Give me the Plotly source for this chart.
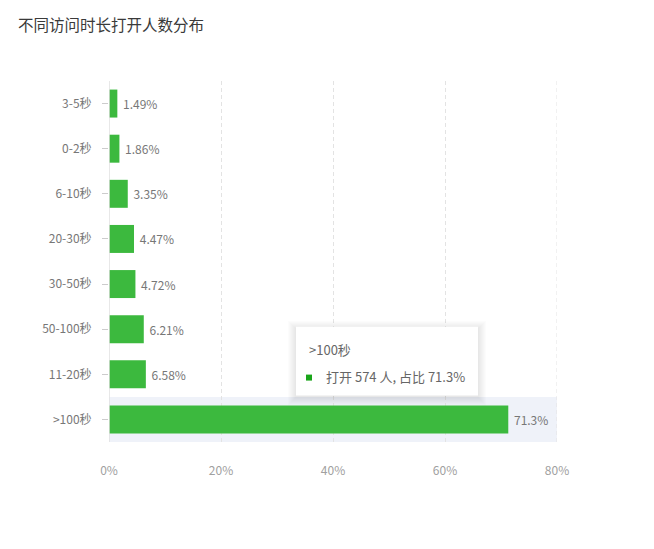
#!/usr/bin/env python3

import plotly.graph_objs as go

# Data (top to bottom)
durations = ['3-5秒', '0-2秒', '6-10秒', '20-30秒', '30-50秒', '50-100秒', '11-20秒', '>100秒']
shares = [1.49, 1.86, 3.35, 4.47, 4.72, 6.21, 6.58, 71.3]
x_ticks = [0, 20, 40, 60, 80]
hover_label = '>100秒'
hover_count = 574

font_family = 'Noto Sans CJK SC, Noto Sans, sans-serif'
bar_green = '#3cb93e'

W, H = 654, 549
OFF = 8  # page margin around the plot div
L, T = 109 - OFF, 81 - OFF
pw, ph = 448, 361.5
R, B = W - L - pw, H - T - ph


def px(x, y):
    # reference pixel position -> paper coords
    return (x - OFF - L) / pw, (T + ph - (y - OFF)) / ph


bar = go.Bar(
    x=shares,
    y=durations,
    orientation='h',
    marker=dict(color=bar_green, line=dict(width=0)),
    width=0.62,
    texttemplate=' %{x}%',
    textposition='outside',
    textfont=dict(color='#777', size=12, family=font_family),
    cliponaxis=False,
    hoverinfo='skip',
)

layout = go.Layout(
    width=W, height=H,
    margin=dict(l=L, r=R, t=T, b=B),
    paper_bgcolor='white',
    plot_bgcolor='white',
    font=dict(family=font_family),
    showlegend=False,
    title=dict(text='不同访问时长打开人数分布', x=(18 - OFF) / W, xanchor='left',
               y=1 - (26 - OFF) / H, yanchor='middle',
               font=dict(size=15.5, color='#3a3a3a', family=font_family)),
    xaxis=dict(
        range=[0, 80], tickvals=x_ticks, ticktext=[f'{v}%' for v in x_ticks],
        showgrid=True, gridcolor='#e3e3e3', griddash='4px,3px', gridwidth=1,
        zeroline=False, showline=False, ticks='',
        tickfont=dict(color='#a0a0a0', size=12, family=font_family),
        ticklabelstandoff=20,
    ),
    yaxis=dict(
        autorange='reversed', type='category',
        showgrid=False, zeroline=False,
        showline=False,
        ticks='outside', ticklen=6, tickcolor='#cccccc',
        tickfont=dict(color='#777', size=12, family=font_family),
        ticklabelstandoff=8,
    ),
)

fig = go.Figure(data=[bar], layout=layout)

# y axis line at 0%
fig.add_shape(type='line', xref='x', yref='paper', x0=0, x1=0, y0=0, y1=1,
              line=dict(color='#e0e0e0', width=1.5), layer='above')
# last grid line at the right edge (plotly drops it)
fig.add_shape(type='line', xref='x', yref='paper', x0=x_ticks[-1], x1=x_ticks[-1], y0=0, y1=1,
              line=dict(color='#e3e3e3', width=1, dash='4px,3px'), layer='above')

# hover band behind the >100秒 bar
idx = durations.index(hover_label)
fig.add_shape(type='rect', xref='paper', yref='y', x0=0, x1=1,
              y0=idx - 0.5, y1=idx + 0.5,
              fillcolor='#eff2f9', line=dict(width=0), layer='below')

# tooltip box with soft shadow
bx0, by0, bx1, by1 = 296, 327, 478, 396
for d in range(8, 0, -1):
    a0, b0 = px(bx0 - d, by1 + d + 2)
    a1, b1 = px(bx1 + d, by0 - d + 2)
    fig.add_shape(type='rect', xref='paper', yref='paper', x0=a0, x1=a1, y0=b0, y1=b1,
                  fillcolor='rgba(0,0,0,0.012)', line=dict(width=0), layer='above')
a0, b0 = px(bx0, by1)
a1, b1 = px(bx1, by0)
fig.add_shape(type='rect', xref='paper', yref='paper', x0=a0, x1=a1, y0=b0, y1=b1,
              fillcolor='white', line=dict(width=0), layer='above')

tx, ty = px(307, 350)
fig.add_annotation(xref='paper', yref='paper', x=tx, y=ty, xanchor='left', yanchor='middle',
                   text=hover_label, showarrow=False,
                   font=dict(size=13, color='#666', family=font_family))
mx0, my0 = px(306, 381)
mx1, my1 = px(312, 375)
fig.add_shape(type='rect', xref='paper', yref='paper', x0=mx0, x1=mx1, y0=my0, y1=my1,
              fillcolor='#1aa51a', line=dict(width=0), layer='above')
tx, ty = px(324, 377)
hover_share = shares[idx]
fig.add_annotation(xref='paper', yref='paper', x=tx, y=ty, xanchor='left', yanchor='middle',
                   text=f'打开 {hover_count} 人, 占比 {hover_share}%', showarrow=False,
                   font=dict(size=13, color='#666', family=font_family))

fig.write_html('out.html')
